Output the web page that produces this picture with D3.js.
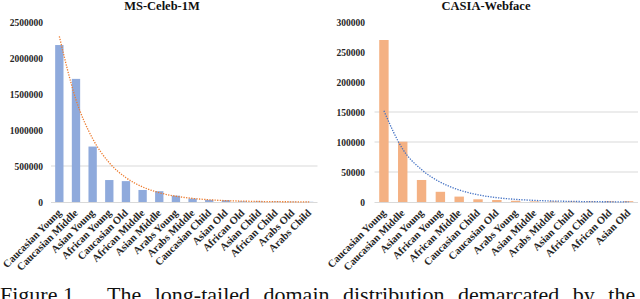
<!DOCTYPE html>
<html>
<head>
<meta charset="utf-8">
<script src="https://cdn.jsdelivr.net/npm/d3@7"></script>
<style>
  body { margin: 0; background: #fff; }
  svg { display: block; }
</style>
</head>
<body>
<svg id="chart" width="640" height="299"></svg>
<script>
// MS-Celeb-1M data
const msCategories = ["Caucasian Young", "Caucasian Middle", "Asian Young", "African Young", "Caucasian Old",
  "African Middle", "Asian Middle", "Arabs Young", "Arabs Middle", "Caucasian Child", "Asian Old",
  "African Old", "Asian Child", "African Child", "Arabs Old", "Arabs Child"];
const msValues = [2180000, 1710000, 770000, 305000, 290000, 167000, 150000, 88000, 48000, 30000, 25000,
  9000, 7000, 5000, 4000, 3000];
// exponential trendline, read at each category
const msTrend = [2300000, 1420000, 880000, 545000, 338000, 209000, 129000, 80000, 50000, 31000, 19000,
  12000, 7300, 4500, 2800, 1700];
const msTicks = [0, 500000, 1000000, 1500000, 2000000, 2500000];
const msGrid = [500000];

// CASIA-Webface data
const casiaCategories = ["Caucasian Young", "Caucasian Middle", "Asian Young", "African Young", "African Middle",
  "Caucasian Child", "Caucasian Old", "Arabs Young", "Asian Middle", "Arabs Middle", "Asian Child",
  "African Child", "African Old", "Asian Old"];
const casiaValues = [270000, 100500, 36700, 17000, 9000, 4500, 3300, 2000, 1000, 900, 800, 800, 1200, 1400];
const casiaTrend = [152000, 88000, 54000, 33000, 20000, 12000, 7200, 4400, 2700, 1600, 1000, 600, 370, 220];
const casiaTicks = [0, 50000, 100000, 150000, 200000, 250000, 300000];
const casiaGrid = [50000, 100000, 150000];

const serif = '"Liberation Serif", "Times New Roman", serif';
const svg = d3.select("#chart").style("font-family", serif);

function drawPanel(opt) {
  const g = svg.append("g");

  const x = d3.scaleBand()
    .domain(opt.categories)
    .range([opt.left, opt.right])
    .paddingInner(0.5)
    .paddingOuter(0.25);

  const y = d3.scaleLinear()
    .domain([0, opt.max])
    .range([202, 22]);

  // gridlines
  g.selectAll(".grid")
    .data(opt.grid)
    .enter().append("line")
    .attr("x1", opt.left)
    .attr("x2", opt.right)
    .attr("y1", d => y(d))
    .attr("y2", d => y(d))
    .attr("stroke", "#d9d9d9")
    .attr("stroke-width", 1);

  // y axis labels only (no line)
  const yAxis = d3.axisLeft(y).tickValues(opt.ticks).tickSize(0).tickPadding(0).tickFormat(d3.format("d"));
  const ya = g.append("g")
    .attr("transform", "translate(" + opt.labelX + ",0)")
    .call(yAxis);
  ya.attr("font-family", null).attr("font-size", null);
  ya.select(".domain").remove();
  ya.selectAll("text")
    .style("font-family", serif)
    .style("font-weight", "bold")
    .style("font-size", "9.5px")
    .attr("fill", "#262626");

  // bars
  g.selectAll(".bar")
    .data(opt.values)
    .enter().append("rect")
    .attr("x", (d, i) => x(opt.categories[i]))
    .attr("y", d => y(d))
    .attr("width", x.bandwidth())
    .attr("height", d => y(0) - y(d))
    .attr("fill", opt.barColor);

  // category axis
  g.append("line")
    .attr("x1", opt.left)
    .attr("x2", opt.right)
    .attr("y1", y(0) + 0.5)
    .attr("y2", y(0) + 0.5)
    .attr("stroke", "#d9d9d9");

  const xAxis = d3.axisBottom(x).tickSize(0).tickPadding(0);
  const xa = g.append("g")
    .attr("transform", "translate(0," + (y(0) + 6) + ")")
    .call(xAxis);
  xa.attr("font-family", null).attr("font-size", null);
  xa.select(".domain").remove();
  xa.selectAll("text")
    .style("font-family", serif)
    .style("font-weight", "bold")
    .style("font-size", "10.5px")
    .attr("fill", "#262626")
    .attr("text-anchor", "end")
    .attr("y", 0)
    .attr("dy", "0.35em")
    .attr("transform", "translate(0,3) rotate(-45)");

  // trendline (dotted)
  const line = d3.line()
    .x((d, i) => x(opt.categories[i]) + x.bandwidth() / 2)
    .y(d => y(d))
    .curve(d3.curveMonotoneX);
  g.append("path")
    .datum(opt.trend)
    .attr("d", line)
    .attr("fill", "none")
    .attr("stroke", opt.trendColor)
    .attr("stroke-width", 1.3)
    .attr("stroke-dasharray", "1.3,1.3");

  // title
  g.append("text")
    .attr("x", opt.titleX)
    .attr("y", 10)
    .attr("text-anchor", "middle")
    .style("font-family", serif)
    .style("font-weight", "bold")
    .style("font-size", "12.5px")
    .attr("fill", "#111")
    .text(opt.title);
}

drawPanel({
  title: "MS-Celeb-1M", categories: msCategories, values: msValues, trend: msTrend,
  ticks: msTicks, grid: msGrid, max: 2500000,
  left: 51, right: 317.5, labelX: 43, titleX: 162,
  barColor: "#8faadc", trendColor: "#ed7d31"
});

drawPanel({
  title: "CASIA-Webface", categories: casiaCategories, values: casiaValues, trend: casiaTrend,
  ticks: casiaTicks, grid: casiaGrid, max: 300000,
  left: 374.5, right: 638, labelX: 365, titleX: 486,
  barColor: "#f4b183", trendColor: "#4472c4"
});

// caption (cut off at the bottom edge, like the source figure)
const caption = svg.append("text")
  .attr("y", 302)
  .style("font-family", serif)
  .style("font-size", "22px")
  .attr("fill", "#111");
caption.append("tspan").attr("x", 0).text("Figure 1.");
caption.append("tspan").attr("x", 107)
  .style("word-spacing", "8px")
  .text("The long-tailed domain distribution demarcated by the");
</script>
</body>
</html>
